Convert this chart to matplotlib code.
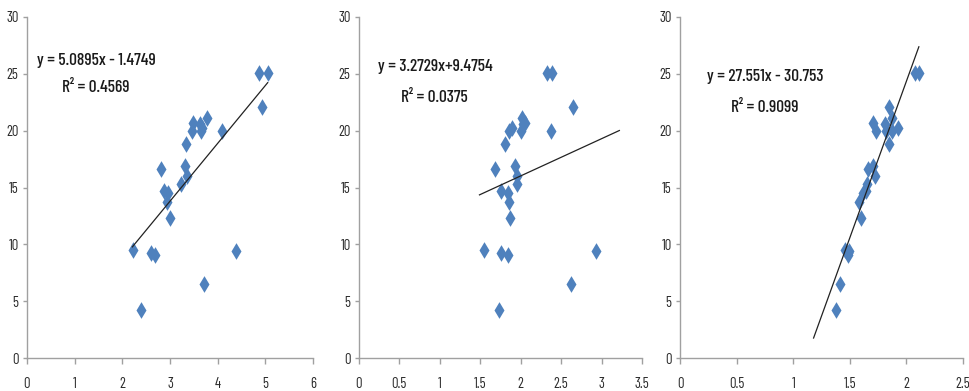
import matplotlib
matplotlib.use("Agg")
import matplotlib.pyplot as plt
from matplotlib.ticker import MultipleLocator, FuncFormatter

plt.rcParams['font.family'] = ['Barlow Condensed', 'DejaVu Sans']

# shared y values
y_vals = [25.1, 25.1, 22.1, 21.1, 20.7, 20.6, 20.25, 20.0, 20.0, 20.0, 18.8, 16.9, 16.6,
          16.0, 15.3, 14.7, 14.5, 13.75, 12.35, 9.5, 9.37, 9.22, 9.07, 6.5, 4.24]

x1 = [4.86, 5.05, 4.92, 3.78, 3.49, 3.63, 3.68, 3.47, 3.66, 4.10, 3.34, 3.32, 2.81,
      3.35, 3.24, 2.88, 2.96, 2.93, 3.00, 2.23, 4.39, 2.60, 2.69, 3.72, 2.39]
x2 = [2.33, 2.39, 2.65, 2.02, 2.05, 2.03, 1.89, 1.85, 2.00, 2.37, 1.80, 1.93, 1.68,
      1.95, 1.96, 1.75, 1.84, 1.86, 1.87, 1.54, 2.93, 1.75, 1.84, 2.62, 1.73]
x3 = [2.08, 2.11, 1.85, 1.87, 1.706, 1.81, 1.93, 1.735, 1.82, 1.87, 1.85, 1.706, 1.665,
      1.72, 1.65, 1.64, 1.62, 1.58, 1.60, 1.46, 1.49, 1.485, 1.48, 1.415, 1.376]

slopes = [5.0895, 3.2729, 27.551]
intercepts = [-1.4749, 9.4754, -30.753]
line_ranges = [(2.21, 5.05), (1.49, 3.22), (1.18, 2.11)]
eq_texts = ["y = 5.0895x - 1.4749", "y = 3.2729x+9.4754", "y = 27.551x - 30.753"]
r2_texts = ["R² = 0.4569", "R² = 0.0375", "R² = 0.9099"]
x_max = [6, 3.5, 2.5]
x_step = [1, 0.5, 0.5]

xs = [x1, x2, x3]
lefts = [27/969, 359/969, 680/969]
widths = [286/969, 283/969, 283/969]
bottom = (391-358)/391
height = 341/391
eq_pos = [(96, 60), (435, 67), (765, 77)]
r2_pos = [(96, 88), (434, 98), (765, 108)]

fig = plt.figure(figsize=(9.69, 3.91), dpi=100)
gray = '#a0a0a0'
for i in range(3):
    ax = fig.add_axes([lefts[i], bottom, widths[i], height])
    ax.scatter(xs[i], y_vals, marker='d', s=72, color='#4F81BD', linewidths=0, zorder=3)
    x0, x1_ = line_ranges[i]
    ax.plot([x0, x1_], [slopes[i]*x0 + intercepts[i], slopes[i]*x1_ + intercepts[i]],
            color='#222222', lw=0.9, zorder=4)
    ax.set_xlim(0, x_max[i])
    ax.set_ylim(0, 30)
    ax.xaxis.set_major_locator(MultipleLocator(x_step[i]))
    ax.yaxis.set_major_locator(MultipleLocator(5))
    ax.xaxis.set_major_formatter(FuncFormatter(lambda v, p: ('%g' % v)))
    for s in ['top', 'right']:
        ax.spines[s].set_visible(False)
    for s in ['left', 'bottom']:
        ax.spines[s].set_color(gray)
        ax.spines[s].set_linewidth(1.0)
    ax.tick_params(axis='both', colors=gray, labelcolor='#2a2a2a', labelsize=10.5,
                   width=1.0, direction='out')
    ax.tick_params(axis='x', pad=10, length=4)
    ax.tick_params(axis='y', pad=3, length=3)
    ax.patch.set_alpha(0)
    fig.text(eq_pos[i][0]/969, 1 - eq_pos[i][1]/391, eq_texts[i], ha='center', va='center',
             fontsize=12.5, color='#1a1a1a', weight='medium')
    fig.text(r2_pos[i][0]/969, 1 - r2_pos[i][1]/391, r2_texts[i], ha='center', va='center',
             fontsize=12.5, color='#1a1a1a', weight='medium')

fig.savefig('out.png', dpi=100)
